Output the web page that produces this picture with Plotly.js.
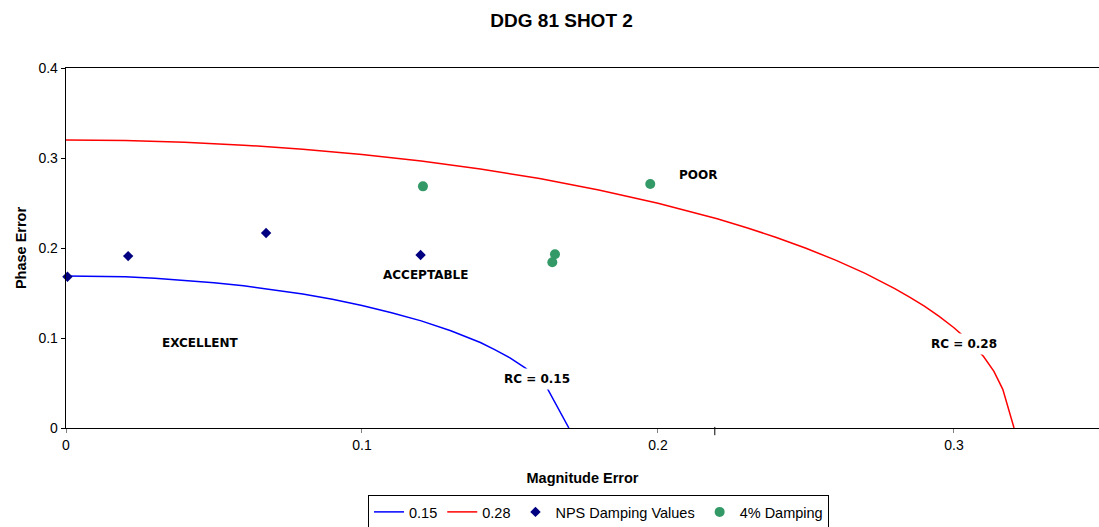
<!DOCTYPE html>
<html>
<head>
<meta charset="utf-8">
<script src="https://cdn.plot.ly/plotly-3.0.1.min.js"></script>
<style>html,body{margin:0;padding:0;background:#fff;}#chart{width:1099px;height:527px;}</style>
</head>
<body>
<div id="chart"></div>
<script>
// RC = 0.15 boundary
const rc15X = [0, 0.02, 0.03, 0.04, 0.05, 0.06, 0.07, 0.08, 0.09, 0.10, 0.11, 0.12, 0.13, 0.135, 0.14, 0.145, 0.15, 0.155, 0.16, 0.1628, 0.1699];
const rc15Y = [0.169, 0.168, 0.1663, 0.164, 0.1614, 0.158, 0.1538, 0.149, 0.143, 0.136, 0.128, 0.119, 0.108, 0.1017, 0.095, 0.0868, 0.078, 0.067, 0.054, 0.043, 0];
// RC = 0.28 boundary
const rc28X = [0, 0.02, 0.04, 0.06, 0.08, 0.10, 0.12, 0.14, 0.16, 0.18, 0.20, 0.21, 0.22, 0.23, 0.24, 0.25, 0.26, 0.27, 0.28, 0.285, 0.29, 0.295, 0.30, 0.305, 0.31, 0.3135, 0.3165, 0.3203];
const rc28Y = [0.32, 0.3194, 0.3175, 0.3143, 0.3098, 0.304, 0.2966, 0.2877, 0.2771, 0.2645, 0.2498, 0.2415, 0.2324, 0.2225, 0.2117, 0.1997, 0.1865, 0.1718, 0.1549, 0.1455, 0.1353, 0.124, 0.1114, 0.0968, 0.0794, 0.063, 0.043, 0];
// NPS Damping Values
const npsX = [0.0005, 0.021, 0.0676, 0.1198];
const npsY = [0.168, 0.191, 0.2167, 0.1922];
// 4% Damping
const dampX = [0.1206, 0.1652, 0.1643, 0.1974];
const dampY = [0.2685, 0.193, 0.1841, 0.2711];
// Region and curve labels
const labelText = ["POOR", "ACCEPTABLE", "EXCELLENT"];
const labelX = [0.2135, 0.1213, 0.0453];
const labelY = [0.281, 0.170, 0.0944];
const rcText = ["RC = 0.15", "RC = 0.28"];
const rcLabX = [0.1591, 0.3034];
const rcLabY = [0.0544, 0.0933];
const xTickVals = [0, 0.1, 0.2, 0.3];
const xTickText = ["0", "0.1", "0.2", "0.3"];
const yTickVals = [0, 0.1, 0.2, 0.3, 0.4];
const yTickText = ["0", "0.1", "0.2", "0.3", "0.4"];

const FONT = "Liberation Sans, Arial, sans-serif";
const LABFONT = "DejaVu Sans, Liberation Sans, sans-serif";

const traces = [
  {x: rc15X, y: rc15Y, type: 'scatter', mode: 'lines', name: '0.15',
   line: {color: '#0000FF', width: 1.5}},
  {x: rc28X, y: rc28Y, type: 'scatter', mode: 'lines', name: '0.28',
   line: {color: '#FF0000', width: 1.5}},
  {x: npsX, y: npsY, type: 'scatter', mode: 'markers', name: 'NPS Damping Values',
   cliponaxis: false, marker: {symbol: 'diamond', color: '#000080', size: 8}},
  {x: dampX, y: dampY, type: 'scatter', mode: 'markers', name: '4% Damping',
   cliponaxis: false, marker: {symbol: 'circle', color: '#339966', size: 10}}
];

const annotations = [];
labelText.forEach((t, i) => annotations.push({
  x: labelX[i], y: labelY[i], xref: 'x', yref: 'y', text: '<b>' + t + '</b>',
  showarrow: false, font: {family: LABFONT, size: 12, color: '#000'}
}));
rcText.forEach((t, i) => annotations.push({
  x: rcLabX[i], y: rcLabY[i], xref: 'x', yref: 'y', text: '<b>' + t + '</b>',
  showarrow: false, bgcolor: '#FFFFFF', borderpad: 3,
  font: {family: LABFONT, size: 12, color: '#000'}
}));

const layout = {
  width: 1099, height: 527,
  margin: {l: 66, r: 0, t: 68, b: 99, autoexpand: false},
  paper_bgcolor: '#FFFFFF', plot_bgcolor: '#FFFFFF',
  font: {family: FONT, size: 14, color: '#000'},
  title: {text: '<b>DDG 81 SHOT 2</b>', x: 0.511, xanchor: 'center', y: 0.962, yanchor: 'middle',
          font: {family: FONT, size: 19, color: '#000'}},
  xaxis: {
    range: [0, 0.349], tickvals: xTickVals, ticktext: xTickText,
    showgrid: false, zeroline: false, showline: true, linecolor: '#000', linewidth: 1.3,
    mirror: true, ticks: 'outside', ticklen: 4, tickcolor: '#808080', tickwidth: 1,
    tickfont: {family: FONT, size: 14},
    title: {text: '<b>Magnitude Error</b>', font: {family: FONT, size: 14.5}, standoff: 20}
  },
  yaxis: {
    range: [0, 0.4], tickvals: yTickVals, ticktext: yTickText,
    showgrid: false, zeroline: false, showline: true, linecolor: '#000', linewidth: 1.3,
    ticks: 'outside', ticklen: 4, tickcolor: '#000', tickwidth: 1,
    tickfont: {family: FONT, size: 14},
    title: {text: '<b>Phase Error</b>', font: {family: FONT, size: 14.5}, standoff: 8}
  },
  showlegend: true,
  legend: {
    orientation: 'h', x: 0.5155, xanchor: 'center', y: -0.186, yanchor: 'top',
    bordercolor: '#000', borderwidth: 1, bgcolor: '#FFFFFF',
    font: {family: FONT, size: 14.5}, itemwidth: 30, tracegroupgap: 0
  },
  annotations: annotations,
  shapes: [
    {type: 'line', xref: 'x', yref: 'paper', x0: 0.2192, x1: 0.2192, y0: -0.02, y1: 0.003,
     line: {color: '#000', width: 1}}
  ]
};

Plotly.newPlot('chart', traces, layout, {displayModeBar: false, staticPlot: true});
</script>
</body>
</html>
